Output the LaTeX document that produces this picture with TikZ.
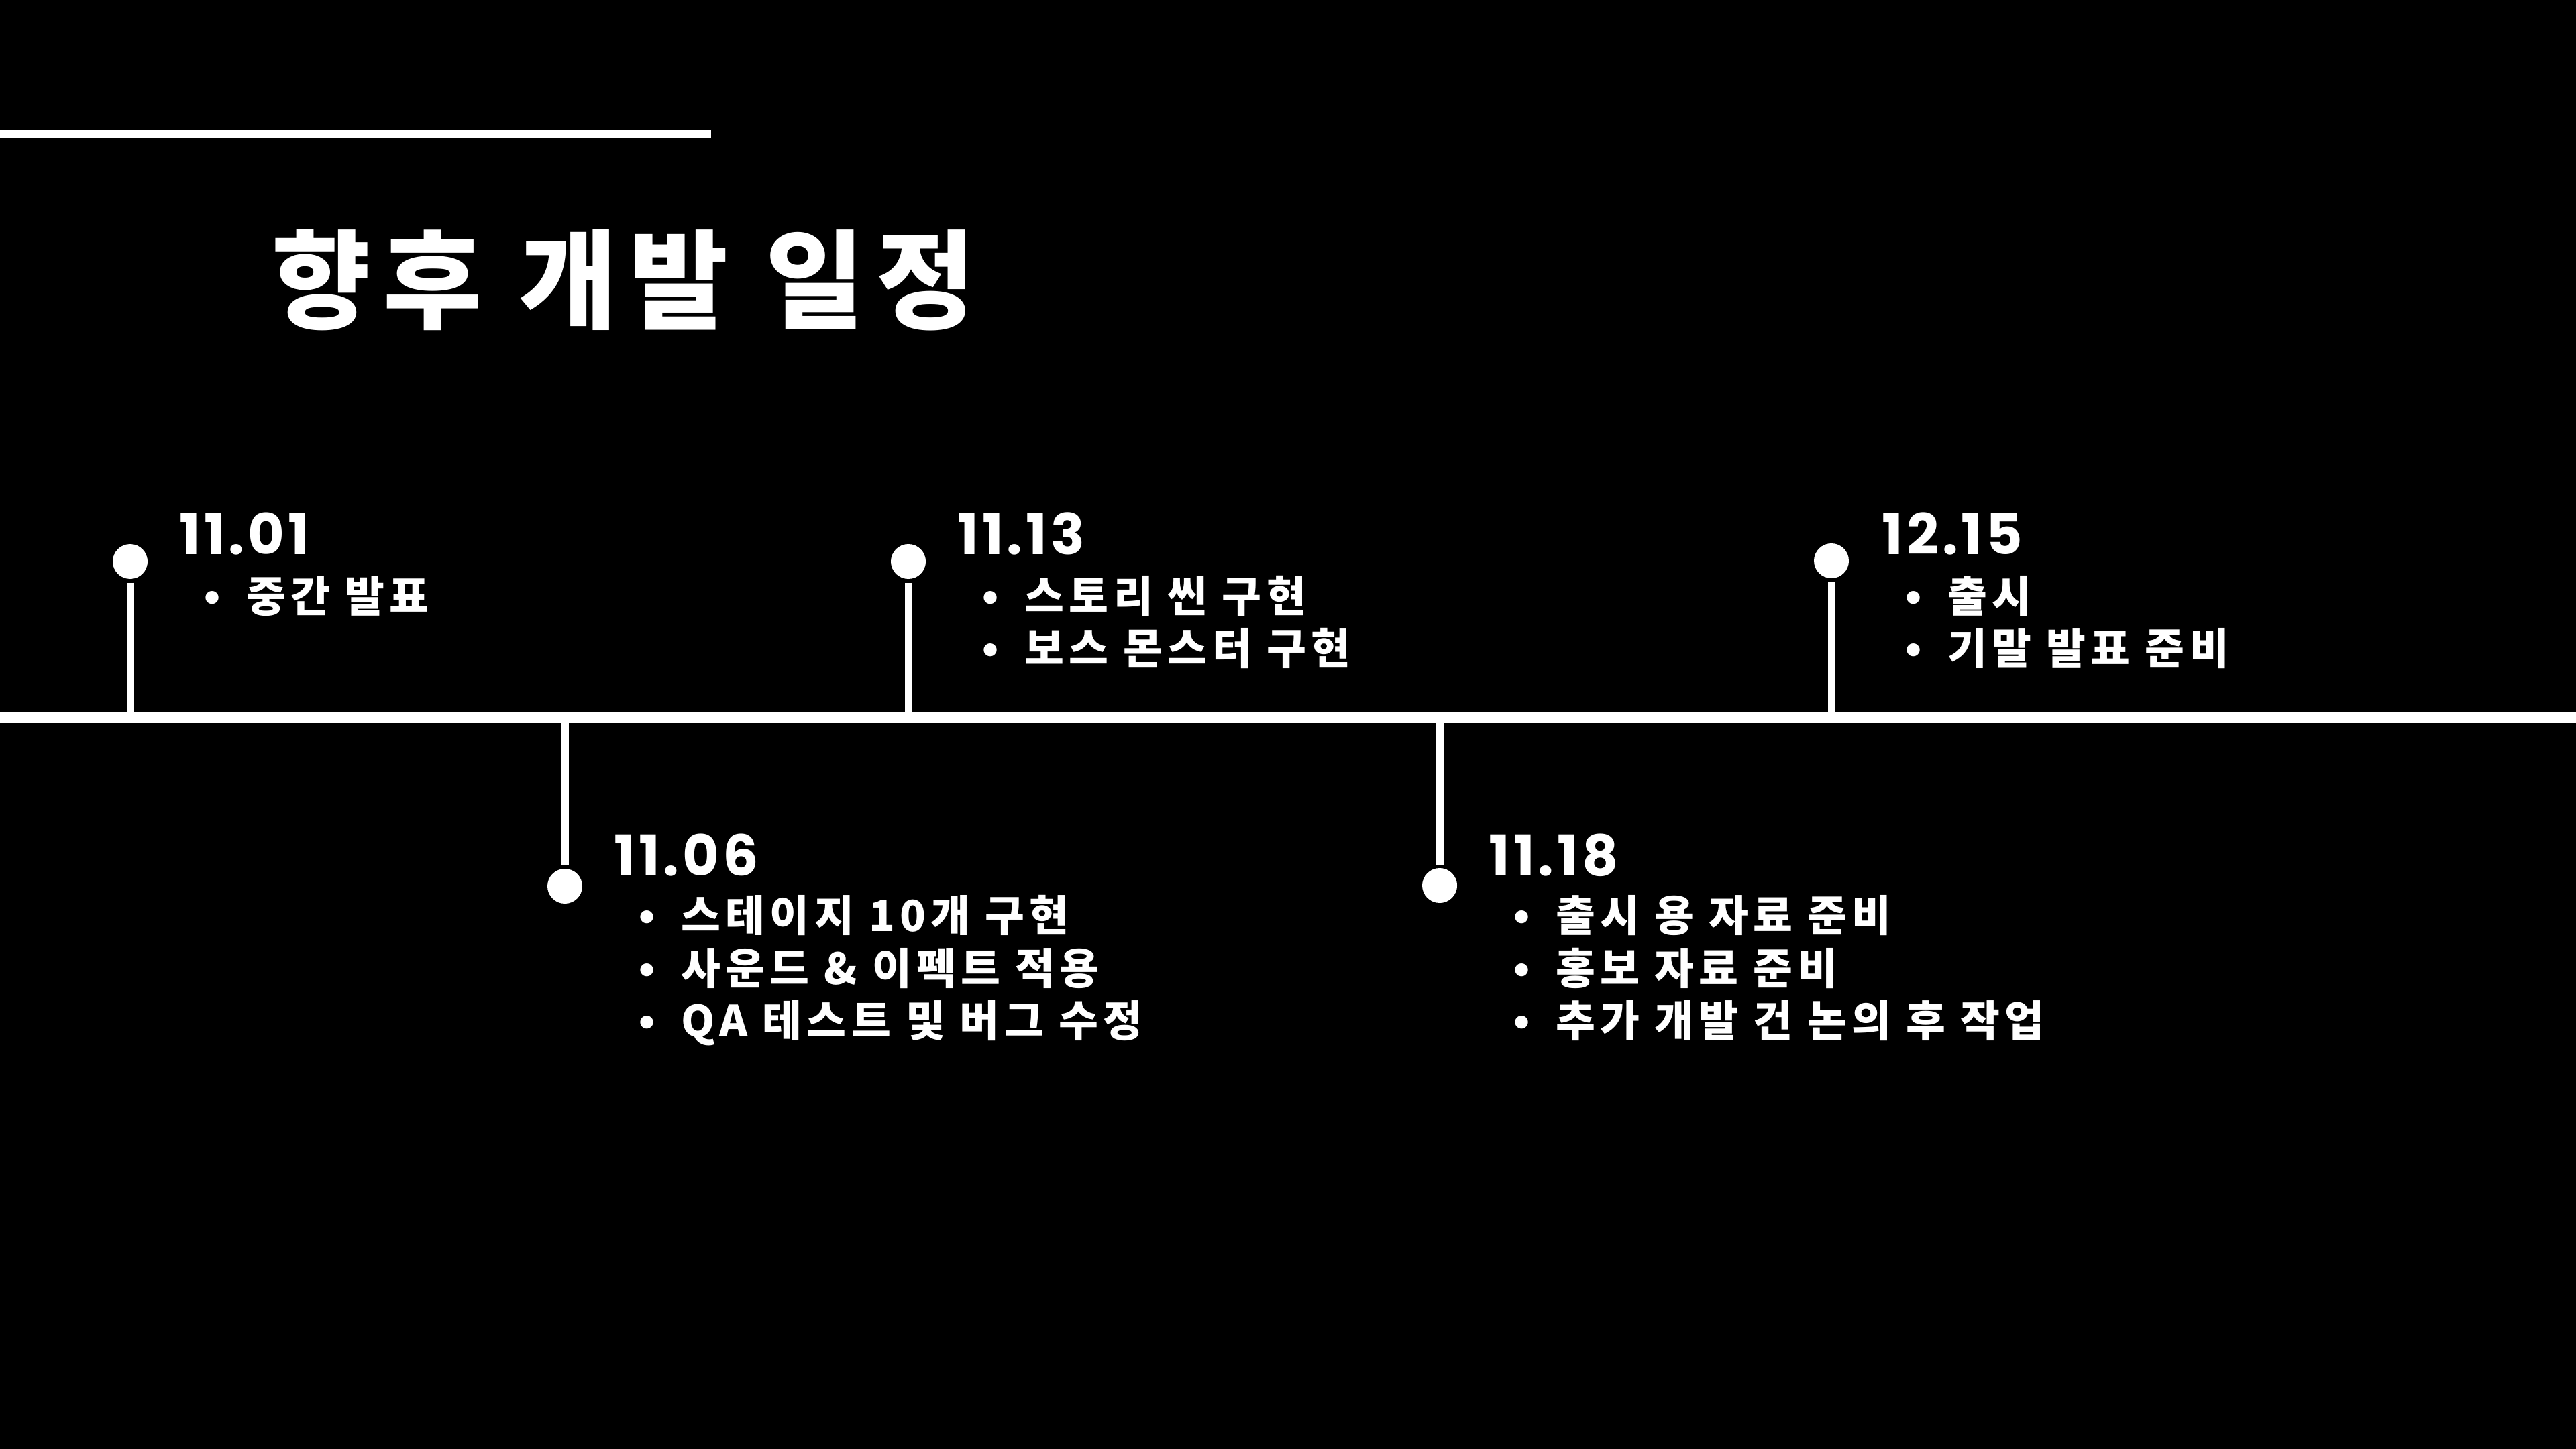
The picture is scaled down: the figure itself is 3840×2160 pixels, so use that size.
\documentclass[tikz,border=0pt]{standalone}
\usepackage{fontspec}
\setmainfont{Noto Sans CJK KR}
\newfontfamily\datefont{Poppins}[LetterSpace=6]
\newfontfamily\bulfont{Poppins}
\usetikzlibrary{positioning}

% bullet with fixed indent
\newcommand\bul{\hbox to 23pt{\hbox to 20.5pt{\hss{\bulfont\bfseries •}\hss}\hss}}

\begin{document}
\begin{tikzpicture}[x=0.25pt,y=-0.25pt,white,line width=2.75pt,
  dot/.style={circle,fill=white,inner sep=0pt,minimum size=13pt},
  datelbl/.style={anchor=base west,inner sep=0pt,font=\datefont\bfseries\fontsize{21}{24}\selectfont},
  itemlbl/.style={anchor=base west,inner sep=0pt,font=\bfseries\fontsize{16}{19}\selectfont\addfontfeature{LetterSpace=11.5}}]
  % background
  \useasboundingbox (0,0) rectangle (3840,2160);
  \fill[black] (0,0) rectangle (3840,2160);

  % title
  \draw[line width=3pt] (0,200) -- (1060,200);
  \node[anchor=base west,inner sep=0pt,font=\bfseries\fontsize{40}{48}\selectfont\addfontfeature{LetterSpace=11.5}] (title) at (400,478) {향후 개발 일정};

  % time line
  \coordinate (lstart) at (0,1070);
  \coordinate (lend) at (3840,1070);
  \draw[line width=4pt] (lstart) -- (lend);

  % 11.01
  \node[dot] (p1) at (194,837) {};
  \coordinate (b1) at (194,1070);
  \draw (p1) -- (b1);
  \node[datelbl] (d1) at (262,826) {11.01};
  \node[itemlbl] (d1a) at (270,912) {\bul 중간 발표};

  % 11.06
  \node[dot] (p2) at (842,1321) {};
  \coordinate (b2) at (842,1070);
  \draw (b2) -- (p2);
  \node[datelbl] (d2) at (910,1305) {11.06};
  \node[itemlbl] (d2a) at (918,1388) {\bul 스테이지 10개 구현};
  \node[itemlbl] (d2b) at (918,1467) {\bul 사운드 \& 이펙트 적용};
  \node[itemlbl] (d2c) at (918,1545) {\bul QA 테스트 및 버그 수정};

  % 11.13
  \node[dot] (p3) at (1354,837) {};
  \coordinate (b3) at (1354,1070);
  \draw (p3) -- (b3);
  \node[datelbl] (d3) at (1422,826) {11.13};
  \node[itemlbl] (d3a) at (1430,912) {\bul 스토리 씬 구현};
  \node[itemlbl] (d3b) at (1430,990) {\bul 보스 몬스터 구현};

  % 11.18
  \node[dot] (p4) at (2146,1320) {};
  \coordinate (b4) at (2146,1070);
  \draw (b4) -- (p4);
  \node[datelbl] (d4) at (2214,1305) {11.18};
  \node[itemlbl] (d4a) at (2222,1388) {\bul 출시 용 자료 준비};
  \node[itemlbl] (d4b) at (2222,1467) {\bul 홍보 자료 준비};
  \node[itemlbl] (d4c) at (2222,1545) {\bul 추가 개발 건 논의 후 작업};

  % 12.15
  \node[dot] (p5) at (2730,836) {};
  \coordinate (b5) at (2730,1070);
  \draw (p5) -- (b5);
  \node[datelbl] (d5) at (2800,826) {12.15};
  \node[itemlbl] (d5a) at (2806,912) {\bul 출시};
  \node[itemlbl] (d5b) at (2806,990) {\bul 기말 발표 준비};
\end{tikzpicture}
\end{document}
